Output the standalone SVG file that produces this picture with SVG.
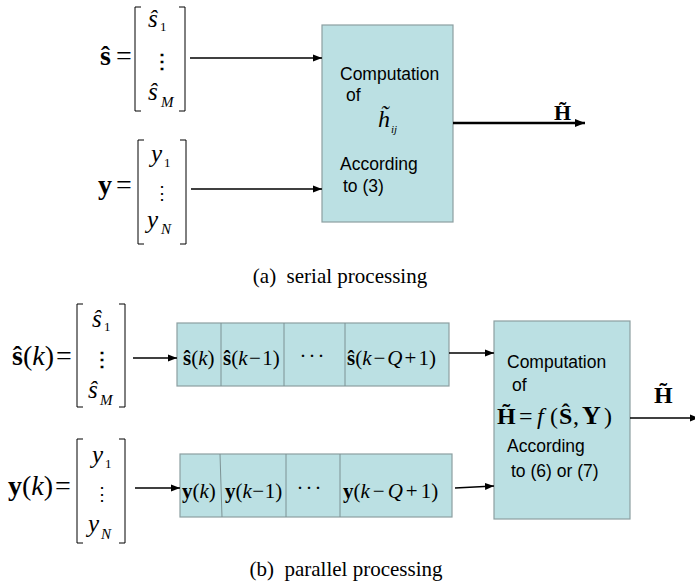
<svg xmlns="http://www.w3.org/2000/svg" width="695" height="587" viewBox="0 0 695 587">
<style>
.box{fill:#bbe0e3;stroke:#8c9fa1;stroke-width:1.2}
.div{stroke:#7d9294;stroke-width:1;fill:none}
.brk{fill:none;stroke:#000;stroke-width:1}
.lbl{font-family:"Liberation Sans",Arial,sans-serif;font-size:17.5px;fill:#000}
.m{font-family:"Liberation Serif","Times New Roman",serif;fill:#000}
.b{font-weight:bold}
.i{font-style:italic}
.dots{font-family:"DejaVu Serif",serif;fill:#000}
.cap{font-family:"Liberation Serif","Times New Roman",serif;font-size:21px;fill:#000}
.ar{stroke:#000;stroke-width:1.6;fill:none;marker-end:url(#ah)}
.ar2{stroke:#000;stroke-width:2.4;fill:none;marker-end:url(#ah2)}
</style>
<defs>
<marker id="ah" markerUnits="userSpaceOnUse" markerWidth="10" markerHeight="8" refX="9" refY="4" orient="auto">
<path d="M0,0.5 L9,4 L0,7.5 z" fill="#000"/>
</marker>
<marker id="ah2" markerUnits="userSpaceOnUse" markerWidth="11" markerHeight="9" refX="10" refY="4.5" orient="auto">
<path d="M0,0.5 L10,4.5 L0,8.5 z" fill="#000"/>
</marker>
</defs>
<rect width="695" height="587" fill="#fff"/>

<!-- ===== (a) serial processing ===== -->
<g id="s-hat-vector">
<text class="m b" x="100" y="65" font-size="28">ŝ</text>
<text class="m" x="116" y="65" font-size="28">=</text>
<path class="brk" d="M141,7 H135 V111 H141 M179,7 H185 V111 H179"/>
<text class="m i" x="148" y="27" font-size="25">ŝ</text>
<text class="m" x="160" y="31" font-size="13">1</text>
<text class="dots b" x="162" y="68" font-size="20" text-anchor="middle">⋮</text>
<text class="m i" x="148" y="100" font-size="25">ŝ</text>
<text class="m i" x="161" y="107" font-size="15">M</text>
</g>

<g id="y-vector">
<text class="m b" x="98" y="194" font-size="28">y</text>
<text class="m" x="116" y="194" font-size="28">=</text>
<path class="brk" d="M144,140 H138 V244 H144 M180,140 H186 V244 H180"/>
<text class="m i" x="151" y="162" font-size="25">y</text>
<text class="m" x="164" y="167" font-size="13">1</text>
<text class="dots" x="162" y="199" font-size="18" text-anchor="middle">⋮</text>
<text class="m i" x="147" y="228" font-size="25">y</text>
<text class="m i" x="161" y="234" font-size="15">N</text>
</g>

<g id="serial-box">
<rect class="box" x="322" y="25" width="131" height="197"/>
<text class="lbl" x="340" y="80">Computation</text>
<text class="lbl" x="346" y="101">of</text>
<text class="m" x="378" y="127" font-size="24"><tspan class="i">h̃</tspan><tspan class="i" dx="1" dy="6" font-size="11">ij</tspan></text>
<text class="lbl" x="340" y="170">According</text>
<text class="lbl" x="343" y="192">to (3)</text>
</g>

<g id="H-tilde-a">
<text class="m b" x="554" y="120" font-size="22">H̃</text>
</g>

<text class="cap" x="340" y="283" text-anchor="middle" xml:space="preserve">(a)  serial processing</text>

<!-- ===== (b) parallel processing ===== -->
<g id="s-hat-k-vector">
<text class="m" x="12" y="365" font-size="28"><tspan class="b">ŝ</tspan>(<tspan class="i">k</tspan>)<tspan dx="2">=</tspan></text>
<path class="brk" d="M83,304 H77 V407 H83 M119,304 H125 V407 H119"/>
<text class="m i" x="92" y="327" font-size="25">ŝ</text>
<text class="m" x="104" y="331" font-size="13">1</text>
<text class="dots b" x="102" y="366" font-size="20" text-anchor="middle">⋮</text>
<text class="m i" x="88" y="398" font-size="25">ŝ</text>
<text class="m i" x="100" y="405" font-size="15">M</text>
</g>

<g id="y-k-vector">
<text class="m" x="8" y="495" font-size="28"><tspan class="b">y</tspan>(<tspan class="i">k</tspan>)<tspan dx="2">=</tspan></text>
<path class="brk" d="M83,439 H77 V543 H83 M119,439 H125 V543 H119"/>
<text class="m i" x="92" y="463" font-size="25">y</text>
<text class="m" x="105" y="468" font-size="13">1</text>
<text class="dots" x="102" y="500" font-size="18" text-anchor="middle">⋮</text>
<text class="m i" x="88" y="532" font-size="25">y</text>
<text class="m i" x="101" y="539" font-size="15">N</text>
</g>

<g id="s-register">
<rect class="box" x="177" y="323" width="272" height="63"/>
<path class="div" d="M221,323 V386 M284,323 V386 M345,323 V386"/>
<text class="m" x="183" y="365" font-size="21"><tspan class="b">ŝ</tspan>(<tspan class="i">k</tspan>)</text>
<text class="m" x="223" y="365" font-size="21"><tspan class="b">ŝ</tspan>(<tspan class="i">k</tspan><tspan dx="1.5">−</tspan><tspan dx="1.5">1)</tspan></text>
<text class="m" x="313" y="363" font-size="21" text-anchor="middle" letter-spacing="2">···</text>
<text class="m" x="347" y="365" font-size="21"><tspan class="b">ŝ</tspan>(<tspan class="i">k</tspan><tspan dx="2">−</tspan><tspan class="i" dx="2">Q</tspan><tspan dx="2">+</tspan><tspan dx="2">1)</tspan></text>
</g>

<g id="y-register">
<rect class="box" x="180" y="454" width="272" height="63"/>
<path class="div" d="M220,454 L222,517 M286,454 V517 M340,454 V517"/>
<text class="m" x="182" y="498" font-size="21"><tspan class="b">y</tspan>(<tspan class="i">k</tspan>)</text>
<text class="m" x="225" y="498" font-size="21"><tspan class="b">y</tspan>(<tspan class="i">k</tspan><tspan dx="0.5">−</tspan><tspan dx="0.5">1)</tspan></text>
<text class="m" x="310" y="495" font-size="21" text-anchor="middle" letter-spacing="2">···</text>
<text class="m" x="343" y="498" font-size="21"><tspan class="b">y</tspan>(<tspan class="i">k</tspan><tspan dx="3">−</tspan><tspan class="i" dx="3">Q</tspan><tspan dx="3">+</tspan><tspan dx="3">1)</tspan></text>
</g>

<g id="parallel-box">
<rect class="box" x="494" y="321" width="136" height="198"/>
<text class="lbl" x="507" y="368">Computation</text>
<text class="lbl" x="512" y="391">of</text>
<text class="m" font-size="24" y="424"><tspan class="b" x="497">H̃</tspan><tspan x="519">=</tspan><tspan class="i" x="537">f</tspan><tspan x="550">(</tspan><tspan class="b" x="559">Ŝ</tspan><tspan x="573">,</tspan><tspan class="b" x="582" font-size="26">Y</tspan><tspan x="604">)</tspan></text>
<text class="lbl" x="507" y="452">According</text>
<text class="lbl" x="511" y="477">to (6) or (7)</text>
</g>

<g id="H-tilde-b">
<text class="m b" x="654" y="403" font-size="24">H̃</text>
</g>

<text class="cap" x="346" y="576" text-anchor="middle" font-size="21.5" xml:space="preserve">(b)  parallel processing</text>

<g id="connectors">
<line class="ar" x1="190" y1="58" x2="322" y2="58"/>
<line class="ar" x1="191" y1="189" x2="322" y2="189"/>
<line class="ar2" x1="453" y1="123" x2="585" y2="123"/>
<line class="ar" x1="133" y1="358" x2="177" y2="358"/>
<line class="ar" x1="449" y1="353" x2="494" y2="353"/>
<line class="ar" x1="135" y1="488" x2="180" y2="488"/>
<line class="ar" x1="455" y1="488" x2="494" y2="486"/>
<line class="ar" x1="630" y1="418" x2="699" y2="418"/>
</g>
</svg>
